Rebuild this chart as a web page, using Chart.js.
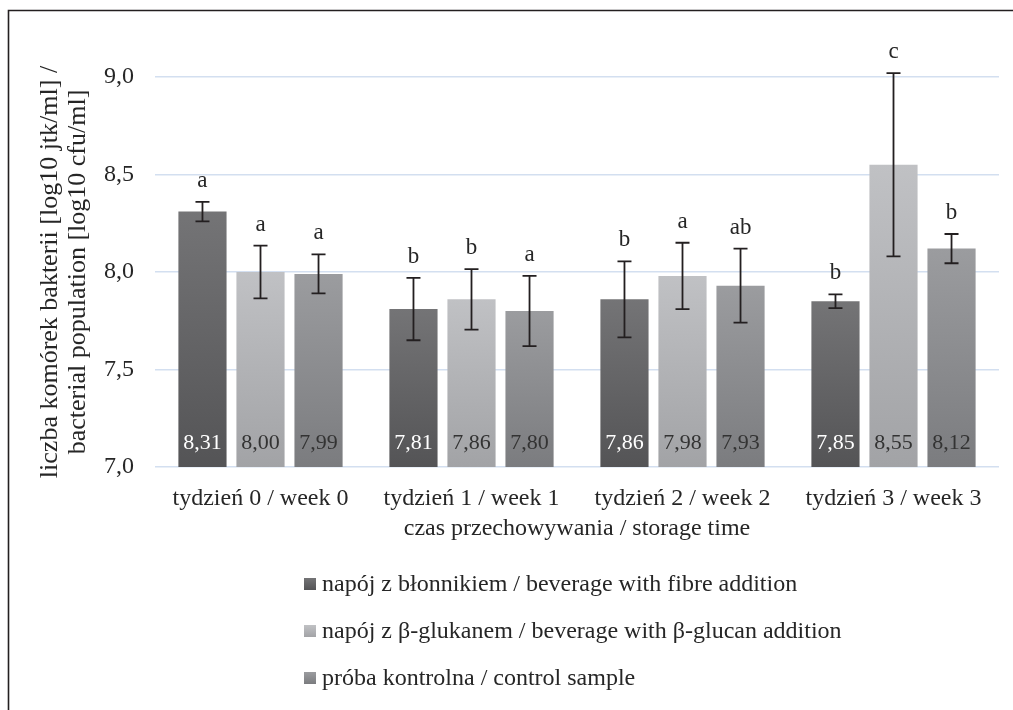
<!DOCTYPE html>
<html>
<head>
<meta charset="utf-8">
<script src="https://cdn.jsdelivr.net/npm/chart.js@4/dist/chart.umd.min.js"></script>
<style>
  html, body { margin: 0; padding: 0; background: #fff; }
  #wrap { width: 1013px; height: 710px; position: relative; }
</style>
</head>
<body>
<div id="wrap"><canvas id="c" width="1013" height="710"></canvas></div>
<script>
// Storage weeks
const categories = ['tydzień 0 / week 0', 'tydzień 1 / week 1', 'tydzień 2 / week 2', 'tydzień 3 / week 3'];

// Series names
const seriesNames = [
  'napój z błonnikiem / beverage with fibre addition',
  'napój z β-glukanem / beverage with β-glucan addition',
  'próba kontrolna / control sample'
];

// Mean bacterial population [log10 cfu/ml]
const fibreValues   = [8.31, 7.81, 7.86, 7.85];
const glucanValues  = [8.00, 7.86, 7.98, 8.55];
const controlValues = [7.99, 7.80, 7.93, 8.12];

// Standard deviations
const fibreErr   = [0.05, 0.16, 0.195, 0.035];
const glucanErr  = [0.135, 0.155, 0.17, 0.47];
const controlErr = [0.10, 0.18, 0.19, 0.075];

// Homogeneous groups
const fibreGroups   = ['a', 'b', 'b', 'b'];
const glucanGroups  = ['a', 'b', 'a', 'c'];
const controlGroups = ['a', 'a', 'ab', 'b'];

// Y axis
const yMin = 7.0, yMax = 9.0, yStep = 0.5;

const FONT = "'Liberation Serif', 'Times New Roman', serif";
const TEXT = '#262626';

// vertical gradient stops (top, bottom) per series
const shades = [
  ['#747476', '#545456'],
  ['#c0c1c4', '#a2a3a6'],
  ['#9b9c9f', '#7b7c7f']
];
const valueLabelColors = ['#ffffff', '#333333', '#333333'];

function fmt(v, d) { return v.toFixed(d).replace('.', ','); }

function barGradient(series) {
  return function (ctx) {
    const chart = ctx.chart;
    const ys = chart.scales && chart.scales.y;
    if (!ys || ctx.dataIndex == null) return shades[series][1];
    const v = ctx.dataset.data[ctx.dataIndex];
    const top = ys.getPixelForValue(v);
    const bottom = ys.getPixelForValue(yMin);
    if (!isFinite(top) || !isFinite(bottom) || top === bottom) return shades[series][1];
    const g = chart.ctx.createLinearGradient(0, top, 0, bottom);
    g.addColorStop(0, shades[series][0]);
    g.addColorStop(1, shades[series][1]);
    return g;
  };
}

const errors = [fibreErr, glucanErr, controlErr];
const groups = [fibreGroups, glucanGroups, controlGroups];

const framePlugin = {
  id: 'frame',
  beforeDraw(chart) {
    const c = chart.ctx;
    c.save();
    c.fillStyle = '#fff';
    c.fillRect(0, 0, chart.width, chart.height);
    c.strokeStyle = '#231f20';
    c.lineWidth = 1.6;
    c.beginPath();
    c.moveTo(8.5, chart.height);
    c.lineTo(8.5, 10.5);
    c.lineTo(chart.width, 10.5);
    c.stroke();
    c.restore();
  }
};

const annotatePlugin = {
  id: 'annotate',
  afterDatasetsDraw(chart) {
    const c = chart.ctx;
    const ys = chart.scales.y;
    const basePx = ys.getPixelForValue(yMin);
    c.save();
    chart.data.datasets.forEach((ds, si) => {
      const meta = chart.getDatasetMeta(si);
      meta.data.forEach((bar, i) => {
        const v = ds.data[i];
        const e = errors[si][i];
        const x = bar.x;
        const yTop = ys.getPixelForValue(v + e);
        const yBot = ys.getPixelForValue(v - e);
        // error bar
        c.strokeStyle = '#231f20';
        c.lineWidth = 1.8;
        c.beginPath();
        c.moveTo(x, yTop); c.lineTo(x, yBot);
        c.moveTo(x - 7, yTop); c.lineTo(x + 7, yTop);
        c.moveTo(x - 7, yBot); c.lineTo(x + 7, yBot);
        c.stroke();
        // group letter above the error bar
        c.fillStyle = TEXT;
        c.font = '23px ' + FONT;
        c.textAlign = 'center';
        c.textBaseline = 'alphabetic';
        c.fillText(groups[si][i], x, yTop - 15);
        // value inside bar
        c.fillStyle = valueLabelColors[si];
        c.font = '22px ' + FONT;
        c.textBaseline = 'middle';
        c.fillText(fmt(v, 2), x, basePx - 24);
      });
    });
    c.restore();
  },
  afterDraw(chart) {
    // legend as a vertical list
    const c = chart.ctx;
    c.save();
    const x0 = 304, rowY = [584, 631, 678];
    chart.data.datasets.forEach((ds, si) => {
      const y = rowY[si];
      const g = c.createLinearGradient(0, y - 6, 0, y + 6);
      g.addColorStop(0, shades[si][0]);
      g.addColorStop(1, shades[si][1]);
      c.fillStyle = g;
      c.fillRect(x0, y - 6, 12, 12);
      c.fillStyle = TEXT;
      c.font = '24px ' + FONT;
      c.textAlign = 'left';
      c.textBaseline = 'middle';
      c.fillText(ds.label, x0 + 18, y + 1);
    });
    c.restore();
  }
};

const seriesValues = [fibreValues, glucanValues, controlValues];

new Chart(document.getElementById('c'), {
  type: 'bar',
  data: {
    labels: categories,
    datasets: seriesValues.map((vals, si) => ({
      label: seriesNames[si],
      data: vals,
      backgroundColor: barGradient(si),
      borderWidth: 0,
      categoryPercentage: 0.825,
      barPercentage: 0.83
    }))
  },
  options: {
    responsive: false,
    animation: false,
    devicePixelRatio: 1,
    layout: { padding: { left: 0, top: 77, right: 14, bottom: 168 } },
    plugins: {
      legend: { display: false },
      tooltip: { enabled: false }
    },
    scales: {
      x: {
        grid: { display: false, drawTicks: false },
        border: { display: false },
        ticks: { color: TEXT, font: { family: FONT, size: 24, lineHeight: 1.1 }, padding: 19, maxRotation: 0 },
        title: {
          display: true,
          text: 'czas przechowywania / storage time',
          color: TEXT,
          font: { family: FONT, size: 24, lineHeight: 1.1 },
          padding: { top: 7, bottom: 0 }
        },
        afterFit(s) { s.height = 75; }
      },
      y: {
        min: yMin,
        max: yMax,
        grid: { color: '#d3dff0', lineWidth: 1.5, drawTicks: false },
        border: { display: false },
        ticks: {
          stepSize: yStep,
          color: TEXT,
          font: { family: FONT, size: 24 },
          padding: 21,
          callback: (v) => fmt(v, 1)
        },
        title: {
          display: true,
          text: ['liczba komórek bakterii [log10 jtk/ml] /', 'bacterial population [log10 cfu/ml]'],
          color: TEXT,
          font: { family: FONT, size: 26, lineHeight: 1.05 },
          padding: { top: 37, bottom: 0 }
        },
        afterFit(s) { s.width = 155; }
      }
    }
  },
  plugins: [framePlugin, annotatePlugin]
});
</script>
</body>
</html>
